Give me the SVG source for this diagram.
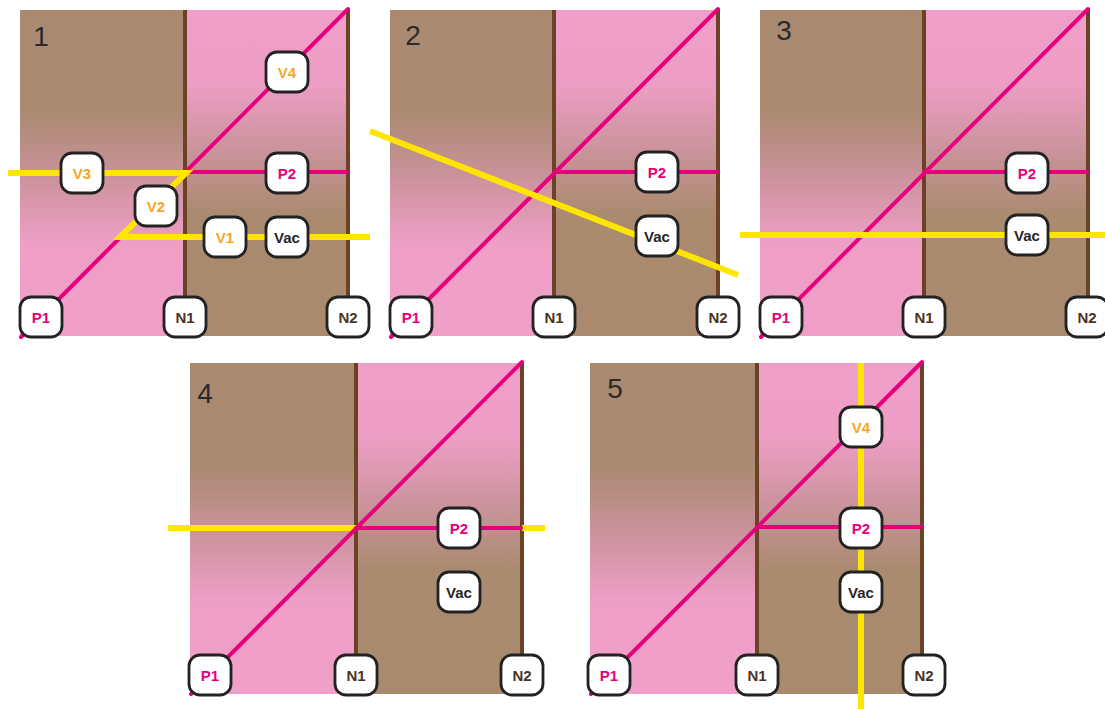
<svg xmlns="http://www.w3.org/2000/svg" width="1105" height="709" viewBox="0 0 1105 709">
<defs>
<linearGradient id="gL" x1="0" y1="0" x2="0" y2="1">
<stop offset="0" stop-color="#a98a70"/>
<stop offset="0.32" stop-color="#ab8a72"/>
<stop offset="0.5" stop-color="#c99299"/>
<stop offset="0.72" stop-color="#ef9fc6"/>
<stop offset="1" stop-color="#f0a0c8"/>
</linearGradient>
<linearGradient id="gR" x1="0" y1="0" x2="0" y2="1">
<stop offset="0" stop-color="#f0a0c8"/>
<stop offset="0.22" stop-color="#ee9ec5"/>
<stop offset="0.42" stop-color="#cc949e"/>
<stop offset="0.62" stop-color="#ab8b70"/>
<stop offset="1" stop-color="#a98a6f"/>
</linearGradient>
<style>
.bg{stroke:none}
.wall{stroke:#6b4226;stroke-width:4;fill:none}
.mag{stroke:#e6007e;stroke-width:4;fill:none;stroke-linecap:round}
.yel{stroke:#ffe600;stroke-width:6;fill:none}
.box{fill:#ffffff;stroke:#222222;stroke-width:2.8}
.lbl{font-family:"Liberation Sans",Arial,sans-serif;font-weight:bold;font-size:15px;text-anchor:middle}
.v{fill:#f6a623}
.p{fill:#e5007e}
.n{fill:#4a3325}
.k{fill:#262626}
.num{font-family:"Liberation Sans",Arial,sans-serif;font-size:28px;fill:#2a2a2a;text-anchor:middle}
</style>
</defs>
<rect width="1105" height="709" fill="#ffffff"/>

<!-- Panel 1 -->
<g id="panel1">
<rect class="bg" x="20" y="10" width="165" height="326" fill="url(#gL)"/>
<rect class="bg" x="185" y="10" width="163" height="326" fill="url(#gR)"/>
<text class="num" x="41" y="46">1</text>
</g>
<g id="connectors1">
<line class="wall" x1="185" y1="10" x2="185" y2="336"/>
<line class="wall" x1="348" y1="10" x2="348" y2="336"/>
<line class="mag" x1="21" y1="337" x2="348" y2="9"/>
<line class="mag" x1="185" y1="172" x2="347" y2="172"/>
<path class="yel" d="M8,173 H186 L120,237 H370"/>
</g>
<g id="p1-V4"><rect class="box" x="266" y="52" width="42" height="40" rx="11"/><text class="lbl v" x="287" y="77.5">V4</text></g>
<g id="p1-V3"><rect class="box" x="61" y="153" width="42" height="40" rx="11"/><text class="lbl v" x="82" y="178.5">V3</text></g>
<g id="p1-P2"><rect class="box" x="266" y="153" width="42" height="40" rx="11"/><text class="lbl p" x="287" y="178.5">P2</text></g>
<g id="p1-V2"><rect class="box" x="135" y="186" width="42" height="40" rx="11"/><text class="lbl v" x="156" y="211.5">V2</text></g>
<g id="p1-V1"><rect class="box" x="204" y="217" width="42" height="40" rx="11"/><text class="lbl v" x="225" y="242.5">V1</text></g>
<g id="p1-Vac"><rect class="box" x="266" y="217" width="42" height="40" rx="11"/><text class="lbl k" x="287" y="242.5">Vac</text></g>
<g id="p1-P1"><rect class="box" x="20" y="297" width="42" height="40" rx="11"/><text class="lbl p" x="41" y="322.5">P1</text></g>
<g id="p1-N1"><rect class="box" x="164" y="297" width="42" height="40" rx="11"/><text class="lbl n" x="185" y="322.5">N1</text></g>
<g id="p1-N2"><rect class="box" x="327" y="297" width="42" height="40" rx="11"/><text class="lbl n" x="348" y="322.5">N2</text></g>

<!-- Panel 2 -->
<g id="panel2">
<rect class="bg" x="390" y="10" width="164" height="326" fill="url(#gL)"/>
<rect class="bg" x="554" y="10" width="164" height="326" fill="url(#gR)"/>
<text class="num" x="413" y="45">2</text>
</g>
<g id="connectors2">
<line class="wall" x1="554" y1="10" x2="554" y2="336"/>
<line class="wall" x1="718" y1="10" x2="718" y2="336"/>
<line class="mag" x1="391" y1="337" x2="718" y2="9"/>
<line class="mag" x1="554" y1="172" x2="717" y2="172"/>
<line class="yel" x1="370" y1="131" x2="738" y2="275"/>
</g>
<g id="p2-P2"><rect class="box" x="636" y="152" width="42" height="40" rx="11"/><text class="lbl p" x="657" y="177.5">P2</text></g>
<g id="p2-Vac"><rect class="box" x="636" y="216" width="42" height="40" rx="11"/><text class="lbl k" x="657" y="241.5">Vac</text></g>
<g id="p2-P1"><rect class="box" x="390" y="297" width="42" height="40" rx="11"/><text class="lbl p" x="411" y="322.5">P1</text></g>
<g id="p2-N1"><rect class="box" x="533" y="297" width="42" height="40" rx="11"/><text class="lbl n" x="554" y="322.5">N1</text></g>
<g id="p2-N2"><rect class="box" x="697" y="297" width="42" height="40" rx="11"/><text class="lbl n" x="718" y="322.5">N2</text></g>

<!-- Panel 3 -->
<g id="panel3">
<rect class="bg" x="760" y="10" width="164" height="326" fill="url(#gL)"/>
<rect class="bg" x="924" y="10" width="164" height="326" fill="url(#gR)"/>
<text class="num" x="784" y="40">3</text>
</g>
<g id="connectors3">
<line class="wall" x1="924" y1="10" x2="924" y2="336"/>
<line class="wall" x1="1088" y1="10" x2="1088" y2="336"/>
<line class="mag" x1="761" y1="337" x2="1088" y2="9"/>
<line class="mag" x1="924" y1="172" x2="1087" y2="172"/>
<line class="yel" x1="740" y1="235" x2="1105" y2="235"/>
</g>
<g id="p3-P2"><rect class="box" x="1006" y="153" width="42" height="40" rx="11"/><text class="lbl p" x="1027" y="178.5">P2</text></g>
<g id="p3-Vac"><rect class="box" x="1006" y="215" width="42" height="40" rx="11"/><text class="lbl k" x="1027" y="240.5">Vac</text></g>
<g id="p3-P1"><rect class="box" x="760" y="297" width="42" height="40" rx="11"/><text class="lbl p" x="781" y="322.5">P1</text></g>
<g id="p3-N1"><rect class="box" x="903" y="297" width="42" height="40" rx="11"/><text class="lbl n" x="924" y="322.5">N1</text></g>
<g id="p3-N2"><rect class="box" x="1066" y="297" width="42" height="40" rx="11"/><text class="lbl n" x="1087" y="322.5">N2</text></g>

<!-- Panel 4 -->
<g id="panel4">
<rect class="bg" x="190" y="363" width="166" height="331" fill="url(#gL)"/>
<rect class="bg" x="356" y="363" width="166" height="331" fill="url(#gR)"/>
<text class="num" x="205" y="403">4</text>
</g>
<g id="connectors4">
<line class="wall" x1="356" y1="363" x2="356" y2="694"/>
<line class="wall" x1="522" y1="363" x2="522" y2="694"/>
<line class="yel" x1="168" y1="528" x2="356" y2="528"/>
<line class="yel" x1="522" y1="528" x2="545" y2="528"/>
<line class="mag" x1="191" y1="694" x2="522" y2="362"/>
<line class="mag" x1="356" y1="528" x2="521" y2="528"/>
</g>
<g id="p4-P2"><rect class="box" x="438" y="508" width="42" height="40" rx="11"/><text class="lbl p" x="459" y="533.5">P2</text></g>
<g id="p4-Vac"><rect class="box" x="438" y="572" width="42" height="40" rx="11"/><text class="lbl k" x="459" y="597.5">Vac</text></g>
<g id="p4-P1"><rect class="box" x="189" y="655" width="42" height="40" rx="11"/><text class="lbl p" x="210" y="680.5">P1</text></g>
<g id="p4-N1"><rect class="box" x="335" y="655" width="42" height="40" rx="11"/><text class="lbl n" x="356" y="680.5">N1</text></g>
<g id="p4-N2"><rect class="box" x="501" y="655" width="42" height="40" rx="11"/><text class="lbl n" x="522" y="680.5">N2</text></g>

<!-- Panel 5 -->
<g id="panel5">
<rect class="bg" x="590" y="363" width="167" height="331" fill="url(#gL)"/>
<rect class="bg" x="757" y="363" width="165" height="331" fill="url(#gR)"/>
<text class="num" x="615" y="398">5</text>
</g>
<g id="connectors5">
<line class="wall" x1="757" y1="363" x2="757" y2="694"/>
<line class="wall" x1="922" y1="363" x2="922" y2="694"/>
<line class="mag" x1="591" y1="694" x2="922" y2="362"/>
<line class="mag" x1="757" y1="527" x2="921" y2="527"/>
<line class="yel" x1="861" y1="363" x2="861" y2="709"/>
</g>
<g id="p5-V4"><rect class="box" x="840" y="407" width="42" height="40" rx="11"/><text class="lbl v" x="861" y="432.5">V4</text></g>
<g id="p5-P2"><rect class="box" x="840" y="508" width="42" height="40" rx="11"/><text class="lbl p" x="861" y="533.5">P2</text></g>
<g id="p5-Vac"><rect class="box" x="840" y="572" width="42" height="40" rx="11"/><text class="lbl k" x="861" y="597.5">Vac</text></g>
<g id="p5-P1"><rect class="box" x="588" y="655" width="42" height="40" rx="11"/><text class="lbl p" x="609" y="680.5">P1</text></g>
<g id="p5-N1"><rect class="box" x="736" y="655" width="42" height="40" rx="11"/><text class="lbl n" x="757" y="680.5">N1</text></g>
<g id="p5-N2"><rect class="box" x="903" y="655" width="42" height="40" rx="11"/><text class="lbl n" x="924" y="680.5">N2</text></g>
</svg>
